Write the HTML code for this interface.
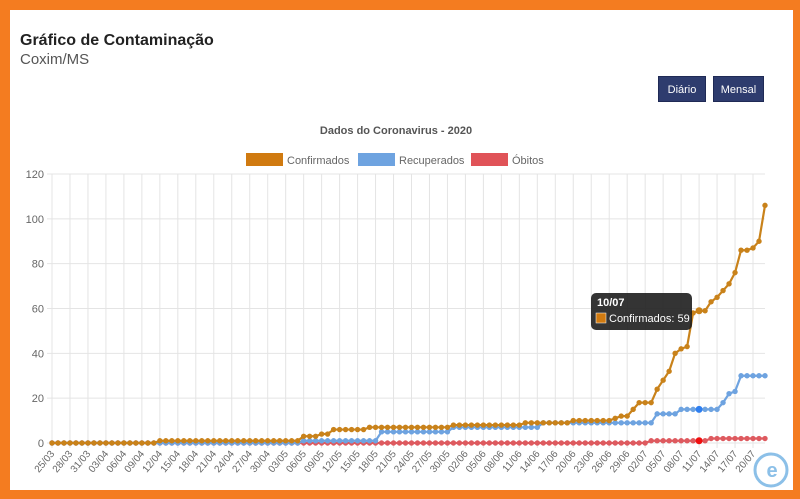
<!DOCTYPE html>
<html><head><meta charset="utf-8"><style>
html,body{margin:0;padding:0;width:800px;height:499px;overflow:hidden;background:#f47c20;font-family:"Liberation Sans",sans-serif}
#panel{position:absolute;left:10px;top:10px;width:783px;height:480px;background:#fff}
#t1{position:absolute;left:20px;top:32px;font-size:16px;font-weight:bold;color:#222}
#t2{position:absolute;left:20px;top:51px;font-size:15px;color:#555}
.btn{position:absolute;top:76px;height:26px;background:#2e3c6e;color:#fff;font-size:11px;line-height:26px;text-align:center;border:1px solid #1f2a55;box-sizing:border-box}
svg{position:absolute;left:0;top:0}
</style></head><body>
<div id="panel"></div>
<div id="t1">Gráfico de Contaminação</div>
<div id="t2">Coxim/MS</div>
<div class="btn" style="left:658px;width:48px">Diário</div>
<div class="btn" style="left:713px;width:51px">Mensal</div>
<svg id="chart" width="800" height="499" xmlns="http://www.w3.org/2000/svg"></svg>
<script>
const tickLabels=["25/03","28/03","31/03","03/04","06/04","09/04","12/04","15/04","18/04","21/04","24/04","27/04","30/04","03/05","06/05","09/05","12/05","15/05","18/05","21/05","24/05","27/05","30/05","02/06","05/06","08/06","11/06","14/06","17/06","20/06","23/06","26/06","29/06","02/07","05/07","08/07","11/07","14/07","17/07","20/07"];
const yTicks=[0,20,40,60,80,100,120];
const confirmados=[0,0,0,0,0,0,0,0,0,0,0,0,0,0,0,0,0,0,1,1,1,1,1,1,1,1,1,1,1,1,1,1,1,1,1,1,1,1,1,1,1,1,3,3,3,4,4,6,6,6,6,6,6,7,7,7,7,7,7,7,7,7,7,7,7,7,7,8,8,8,8,8,8,8,8,8,8,8,8,9,9,9,9,9,9,9,9,10,10,10,10,10,10,10,11,12,12,15,18,18,18,24,28,32,40,42,43,58,59,59,63,65,68,71,76,86,86,87,90,106];
const recuperados=[0,0,0,0,0,0,0,0,0,0,0,0,0,0,0,0,0,0,0,0,0,0,0,0,0,0,0,0,0,0,0,0,0,0,0,0,0,0,0,0,0,0,1,1,1,1,1,1,1,1,1,1,1,1,1,5,5,5,5,5,5,5,5,5,5,5,5,7,7,7,7,7,7,7,7,7,7,7,7,7,7,7,9,9,9,9,9,9,9,9,9,9,9,9,9,9,9,9,9,9,9,13,13,13,13,15,15,15,15,15,15,15,18,22,23,30,30,30,30,30];
const obitos=[0,0,0,0,0,0,0,0,0,0,0,0,0,0,0,0,0,0,0,0,0,0,0,0,0,0,0,0,0,0,0,0,0,0,0,0,0,0,0,0,0,0,0,0,0,0,0,0,0,0,0,0,0,0,0,0,0,0,0,0,0,0,0,0,0,0,0,0,0,0,0,0,0,0,0,0,0,0,0,0,0,0,0,0,0,0,0,0,0,0,0,0,0,0,0,0,0,0,0,0,1,1,1,1,1,1,1,1,1,1,2,2,2,2,2,2,2,2,2,2];
const hoverIndex=108, hoverLabel="10/07";
const NS="http://www.w3.org/2000/svg";
const svg=document.getElementById('chart');
const X0=52,X1=765,Y0=443,Y1=174,N=confirmados.length;
const x=i=>X0+i*(X1-X0)/(N-1);
const y=v=>Y0-v*(Y0-Y1)/120;
function mk(t,a,p){const e=document.createElementNS(NS,t);for(const k in a)e.setAttribute(k,a[k]);(p||svg).appendChild(e);return e;}
yTicks.forEach(v=>{
 const l=mk('line',{x1:X0-5,x2:X1,y1:y(v),y2:y(v),stroke:'#e4e4e4','stroke-width':1});
 
 
 const t=mk('text',{x:X0-8,y:y(v)+4,'text-anchor':'end','font-size':11,fill:'#666'});
 t.textContent=v;
 
 
});
tickLabels.forEach((lb,k)=>{
 const xi=x(k*3);
 const l=mk('line',{x1:xi,x2:xi,y1:Y1,y2:Y0+5,stroke:'#e4e4e4','stroke-width':1});
 
 
 const t=mk('text',{x:xi+3,y:Y0+11,'text-anchor':'end','font-size':10,fill:'#666',transform:`rotate(-50 ${xi+3} ${Y0+11})`});
 t.textContent=lb;
 
 
});
function series(data,col,name,hcol){
 const g=mk('g',{});
 
 
 mk('polyline',{points:data.map((v,i)=>x(i)+','+y(v)).join(' '),fill:'none',stroke:col,'stroke-width':2.2},g);
 data.forEach((v,i)=>{
  const c=mk('circle',{cx:x(i),cy:y(v),r:i===hoverIndex?3.5:2.7,fill:i===hoverIndex&&hcol?hcol:col},g);
  
  
 });
}
series(obitos,'#de5a5f','obitos','#f01010');
series(recuperados,'#6ea3e0','recuperados','#2f7ff0');
series(confirmados,'#c9821a','confirmados',null);
const tt=mk('text',{x:396,y:134,'text-anchor':'middle','font-size':11,'font-weight':'bold',fill:'#555'});
tt.textContent='Dados do Coronavirus - 2020';


[['Confirmados','#d07a10',246],['Recuperados','#6ea3e0',358],['Óbitos','#e05358',471]].forEach(([n,c,lx])=>{
 const g=mk('g',{});
 
 
 mk('rect',{x:lx,y:153,width:37,height:13,fill:c},g);
 const t=mk('text',{x:lx+41,y:164,'font-size':11,fill:'#666'},g);t.textContent=n;
});
const tg=mk('g',{});


mk('rect',{x:591,y:293,width:101,height:37,rx:5,fill:'#1e1e1e','fill-opacity':0.9},tg);
const t1=mk('text',{x:597,y:306,'font-size':11,'font-weight':'bold',fill:'#fff'},tg);t1.textContent=hoverLabel;
mk('rect',{x:596,y:313,width:10,height:10,fill:'#d07a10',stroke:'#fff','stroke-width':0.5},tg);
const t2=mk('text',{x:609,y:322,'font-size':11,fill:'#fff'},tg);t2.textContent='Confirmados: '+confirmados[hoverIndex];
const lg=mk('g',{});


mk('circle',{cx:771,cy:470,r:16,fill:'#fff',stroke:'#8cc0e8','stroke-width':3},lg);
const le=mk('text',{x:772,y:477,'text-anchor':'middle','font-size':20,'font-weight':'bold',fill:'#8cc0e8'},lg);le.textContent='e';
</script>
</body></html>
